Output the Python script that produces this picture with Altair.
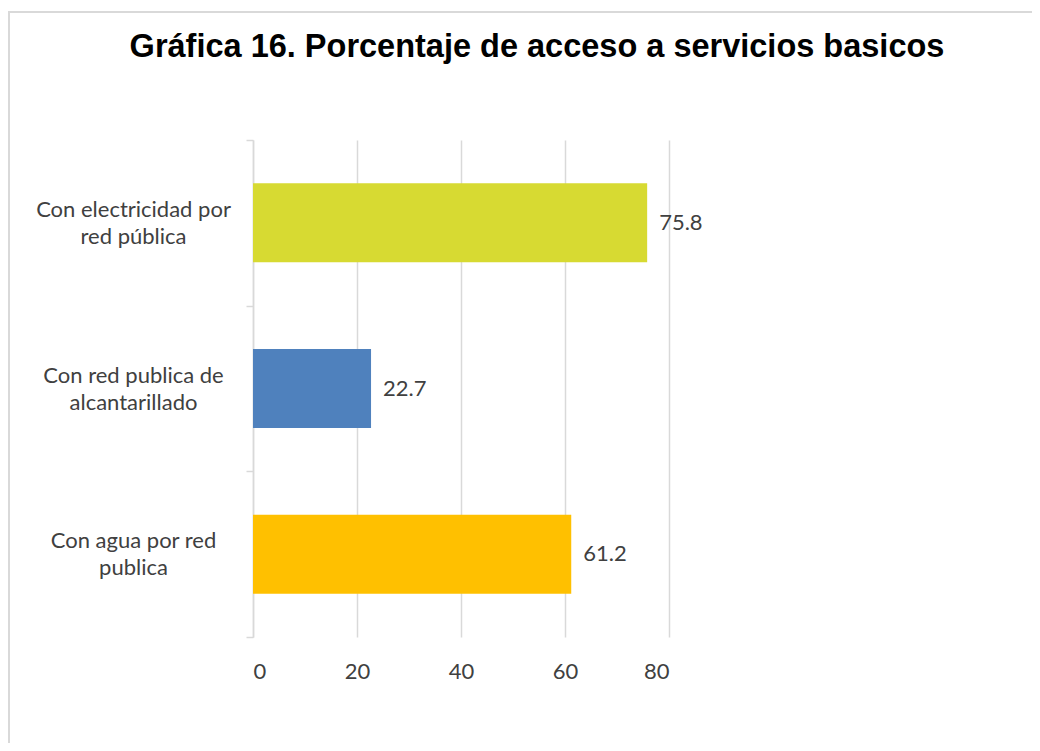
import altair as alt
import pandas as pd

categories = ["Con electricidad por|red pública", "Con red publica de|alcantarillado", "Con agua por red|publica"]
values = [75.8, 22.7, 61.2]
colors = ["#D7DA32", "#4F81BD", "#FFC000"]
x_ticks = [0, 20, 40, 60, 80]
title_text = "Gráfica 16. Porcentaje de acceso a servicios basicos"

df = pd.DataFrame({"cat": categories, "val": values, "color": colors})

W, H = 416, 497
PL, PT, PR, PB = 245, 132, 363, 106

y_enc = alt.Y("cat:N", sort=categories, title=None,
              scale=alt.Scale(paddingInner=0, paddingOuter=0),
              axis=alt.Axis(labelExpr="split(datum.label, '|')", labelAlign="center",
                            labelBaseline="middle", labelPadding=113, tickSize=7,
                            tickBand="extent", labelLineHeight=27, labelOffset=-13.5,
                            labelFont="Lato", labelFontSize=22, labelColor="#404040",
                            labelLimit=400, domainColor="#d9d9d9", tickColor="#d9d9d9",
                            domainWidth=1.5, tickWidth=1.5, grid=False))
x_enc = alt.X("val:Q", title=None,
              scale=alt.Scale(domain=[0, 80], nice=False),
              axis=alt.Axis(values=x_ticks, grid=True, gridColor="#d9d9d9", gridWidth=1.5,
                            domain=False, ticks=False, labelFont="Lato", labelFontSize=22,
                            labelColor="#404040", labelPadding=24))

border = alt.Chart(alt.Data(values=[{}])).mark_rect(
    fill=None, fillOpacity=0, stroke="#d9d9d9", strokeWidth=2, clip=False
).encode(x=alt.value(-PL + 1), x2=alt.value(W + PR + 20),
         y=alt.value(-PT + 4), y2=alt.value(H + PB + 20))

bars = alt.Chart(df).mark_bar(height=alt.RelativeBandSize(0.477)).encode(
    y=y_enc, x=x_enc, color=alt.Color("color:N", scale=None)
)
labels = alt.Chart(df).mark_text(
    align="left", baseline="middle", dx=12, font="Lato", fontSize=22, color="#404040"
).encode(y=alt.Y("cat:N", sort=categories), x="val:Q", text=alt.Text("val:Q", format=".1f"))

chart = alt.layer(border, bars, labels).properties(
    width=W, height=H,
    background="white",
    padding={"left": PL, "top": PT, "right": PR, "bottom": PB},
    autosize=alt.AutoSizeParams(type="none"),
    title=alt.TitleParams(title_text, font="Liberation Sans", fontSize=32.5, fontWeight="bold",
                          color="#000000", anchor="middle", frame="group", dx=76,
                          offset=-78, baseline="alphabetic"),
).configure_view(strokeWidth=0, stroke="transparent")

chart.save("out.html", embed_options={"renderer": "svg", "actions": False})
